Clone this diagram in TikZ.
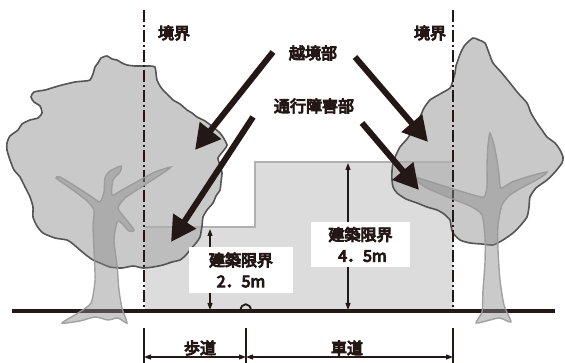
\documentclass[tikz,border=0pt]{standalone}
\usepackage{fontspec}
\newfontfamily\jp{Noto Sans CJK JP}[FakeBold=6]
\usetikzlibrary{arrows.meta}
\definecolor{ink}{HTML}{231815}
\definecolor{crownfill}{HTML}{ADADAD}
\definecolor{crownedge}{HTML}{555555}
\definecolor{trunkfill}{HTML}{8A8A8A}
\definecolor{trunkedge}{HTML}{9A9A9A}
\definecolor{clearfill}{HTML}{DCDCDC}
\definecolor{clearedge}{HTML}{B0B0B0}
\tikzset{
  crown/.style={draw=crownedge, line width=1.6pt, fill=crownfill, fill opacity=0.66},
  trunk/.style={draw=trunkedge, line width=1.4pt, draw opacity=0.9, fill=trunkfill, fill opacity=0.45},
  boundary/.style={draw=ink, line width=1.8pt, dash pattern=on 12pt off 3pt on 2pt off 3pt},
  bigarrow/.style={draw=ink, line width=6pt, -{Triangle[length=25pt,width=26pt]}},
  dimarrow/.style={draw=ink, line width=1.2pt, {Triangle[length=7pt,width=5pt]}-{Triangle[length=7pt,width=5pt]}},
  tick/.style={draw=ink, line width=1.5pt},
  lbl/.style={font=\jp\fontsize{16}{21}\selectfont, text=ink, inner sep=0pt},
  labelbox/.style={lbl, fill=white, align=center, minimum width=#1},
}
\begin{document}
\begin{tikzpicture}[x=1pt,y=-1pt]
\useasboundingbox (0,0) rectangle (565,363);
% clearance region
\fill[clearfill] (145,311) -- (145,227) -- (255,227) -- (255,162) -- (453,162) -- (453,311) -- cycle;
\draw[clearedge, line width=2.5pt] (145,227) -- (255,227) -- (255,162) -- (453,162);
% crowns
\path[crown] plot[smooth cycle, tension=0.4] coordinates {
 (98,63) (101,58) (107,56) (112,59) (117,60) (122,63) (127,65) (135,66) (143,66)
 (150,66) (155,67) (156,73) (157,80) (160,86) (163,90) (168,95) (173,100) (180,104)
 (187,110) (192,113) (197,117) (205,121) (213,127) (220,133) (223,137) (227,145)
 (224,150) (218,158) (220,165) (222,173) (221,182) (220,190) (216,196) (213,203)
 (207,210) (203,217) (202,226) (200,237) (196,243) (190,250) (185,256) (180,260)
 (172,262) (163,265) (153,267) (143,268) (133,266) (122,268) (110,267) (100,263)
 (93,260) (86,255) (80,250) (73,244) (67,240) (55,238) (43,233) (37,226) (33,217)
 (33,207) (30,197) (25,187) (20,177) (14,170) (10,160) (7,150) (7,143) (10,136)
 (18,130) (22,124) (30,120) (38,118) (42,113) (40,106) (34,102) (31,97) (34,92)
 (45,90) (55,87) (62,85) (75,82) (85,81) (90,80) (93,74) (95,67)};
\path[crown] plot[smooth cycle, tension=0.4] coordinates {
 (473,38) (479,40) (485,43) (489,53) (493,63) (501,72) (510,83) (518,93) (527,103)
 (531,113) (537,123) (542,130) (547,137) (555,143) (560,150) (563,157) (562,163)
 (555,172) (547,180) (536,188) (530,197) (529,207) (527,217) (520,226) (513,233)
 (503,240) (493,245) (482,244) (470,243) (460,240) (453,233) (451,226) (450,220)
 (444,214) (437,210) (427,207) (417,203) (406,199) (397,193) (393,187) (392,180)
 (392,171) (393,163) (396,155) (400,147) (407,139) (413,130) (416,123) (420,117)
 (424,108) (430,100) (440,94) (450,88) (453,80) (455,73) (456,66) (458,60) (461,52) (465,45)};
% boundary lines
\coordinate (bl1) at (144,10); \coordinate (bl2) at (144,311);
\coordinate (br1) at (453,10); \coordinate (br2) at (453,311);
\draw[boundary] (bl1) -- (bl2);
\draw[boundary] (br1) -- (br2);
% ground
\coordinate (g1) at (12,311); \coordinate (g2) at (555,311);
\draw[ink, line width=3.2pt] (g1) -- (g2);
% curb
\draw[ink, line width=1.8pt] (240.5,311) .. controls (240.5,302) and (251,302) .. (251,311);
% trunks
\path[trunk] plot[smooth cycle, tension=0.4] coordinates {
 (62,323) (78,313) (91,303) (95,280) (94,250) (93,225) (94,210) (86,200) (70,188)
 (56,178) (60,177) (75,186) (92,197) (100,202) (104,192) (105,178) (110,171)
 (121,166) (120,172) (113,180) (112,195) (122,190) (140,180) (155,172) (171,167)
 (160,175) (140,188) (125,198) (118,208) (125,218) (134,230) (129,231) (118,221)
 (114,240) (117,265) (119,290) (122,308) (127,323) (118,318) (108,320) (95,317) (80,321)};
\path[trunk] plot[smooth cycle, tension=0.4] coordinates {
 (476,323) (482,312) (483,290) (485,262) (485,238) (482,215) (470,206) (445,196)
 (425,187) (413,177) (428,181) (450,188) (470,194) (484,197) (487,185) (487,165)
 (488,145) (490,133) (494,145) (497,160) (499,175) (501,188) (512,182) (530,176)
 (547,172) (540,178) (525,186) (510,195) (502,205) (498,225) (498,250) (500,280)
 (504,305) (511,322) (500,318) (490,320)};
% dimension arrows
\coordinate (d1t) at (210,229); \coordinate (d1b) at (210,310);
\coordinate (d2t) at (348,163); \coordinate (d2b) at (348,310);
\draw[dimarrow] (d1t) -- (d1b);
\draw[dimarrow] (d2t) -- (d2b);
% label boxes
\node[labelbox=104pt, minimum height=46pt] (box25) at (241,270) {建築限界\\2．5m};
\node[labelbox=99pt, minimum height=45pt] (box45) at (360.5,244.5) {建築限界\\\hspace*{4pt}4．5m};
% labels
\node[lbl] (kl) at (174,33) {境界};
\node[lbl] (kr) at (430,33) {境界};
\node[lbl] (ek) at (313,53) {越境部};
\node[lbl] (ts) at (314,106) {通行障害部};
% big arrows
\coordinate (a1s) at (273,52); \coordinate (a1t) at (195,150);
\coordinate (a2s) at (253,117); \coordinate (a2t) at (171,242);
\coordinate (a3s) at (355,57); \coordinate (a3t) at (428,142);
\coordinate (a4s) at (362,123); \coordinate (a4t) at (419,190);
\draw[bigarrow] (a1s) -- (a1t);
\draw[bigarrow] (a2s) -- (a2t);
\draw[bigarrow] (a3s) -- (a3t);
\draw[bigarrow] (a4s) -- (a4t);
% bottom dimensions
\coordinate (t1a) at (144,328); \coordinate (t1b) at (144,363);
\coordinate (t2a) at (246,328); \coordinate (t2b) at (246,363);
\coordinate (t3a) at (453,328); \coordinate (t3b) at (453,363);
\draw[tick] (t1a) -- (t1b);
\draw[tick] (t2a) -- (t2b);
\draw[tick] (t3a) -- (t3b);
\coordinate (h1) at (144,357); \coordinate (h2) at (246,357); \coordinate (h3) at (453,357);
\draw[dimarrow] (h1) -- (h2);
\draw[dimarrow] (h2) -- (h3);
\node[lbl] (hodo) at (200,348) {歩道};
\node[lbl] (shado) at (347,348) {車道};
\end{tikzpicture}
\end{document}
